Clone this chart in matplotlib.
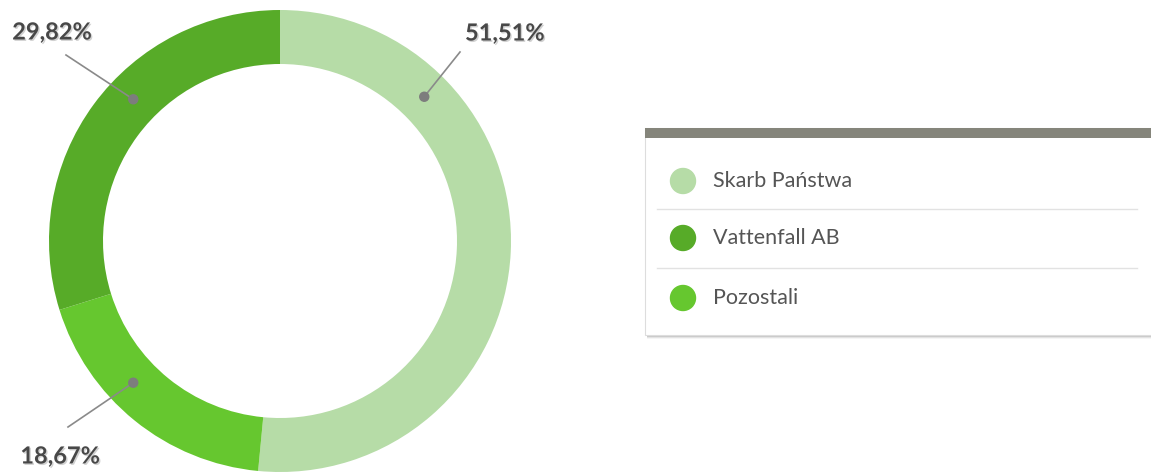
import numpy as np
import matplotlib.pyplot as plt
import matplotlib.patheffects as pe
from matplotlib.patches import Rectangle, Circle

plt.rcParams['font.family'] = ['Lato', 'DejaVu Sans']

# data (clockwise order from the top of the ring)
labels = ["Skarb Państwa", "Pozostali", "Vattenfall AB"]
shares = [51.51, 18.67, 29.82]
colors = ["#b6dca7", "#66c72f", "#57ab28"]

legend_order = ["Skarb Państwa", "Vattenfall AB", "Pozostali"]

W, H = 1151, 475
fig = plt.figure(figsize=(W / 100, H / 100), dpi=100)
ax = fig.add_axes([0, 0, 1, 1])

cx, cy = 280, H - 241
r_out, ring = 231, 54
ax.pie(shares, colors=colors, startangle=90, counterclock=False,
       center=(cx, cy), radius=r_out, frame=True,
       wedgeprops=dict(width=ring, linewidth=0))

ax.set_xlim(0, W)
ax.set_ylim(0, H)
ax.set_aspect('equal')
ax.axis('off')

# percentage callouts: (angle clockwise from top, line end, text position)
callouts = {
    "Skarb Państwa": (45, (460, H - 52), (505, H - 33)),
    "Vattenfall AB": (314, (66, H - 55), (52, H - 32)),
    "Pozostali": (226, (68, H - 427), (60, H - 456)),
}
r_mid = r_out - ring / 2
shadow = [pe.withSimplePatchShadow(offset=(1, -1), shadow_rgbFace='#999999', alpha=0.45)]
for lab, val in zip(labels, shares):
    ang, (lx, ly), (tx, ty) = callouts[lab]
    a = np.deg2rad(ang)
    px, py = cx + r_mid * np.sin(a), cy + r_mid * np.cos(a)
    ax.plot([px, lx], [py, ly], color="#8a8a8a", lw=1.2, zorder=3)
    ax.add_patch(Circle((px, py), 4.5, color="#7d7d7d", zorder=4))
    ax.text(tx, ty, f"{val:.2f}%".replace(".", ","), ha='center', va='center',
            fontsize=17, fontweight='bold', color="#484848", path_effects=shadow, zorder=5)

# legend box
bx0, by_top, by_bot = 645, H - 128, H - 335
for k, a in enumerate([0.10, 0.07, 0.04]):
    ax.add_patch(Rectangle((bx0 + 2, by_bot - 2 - k), W, by_top - by_bot, color='black',
                           alpha=a, lw=0, zorder=1))
ax.add_patch(Rectangle((bx0, by_bot), W, by_top - by_bot, facecolor='white',
                       edgecolor='#dddddd', lw=0.8, zorder=2))
ax.add_patch(Rectangle((bx0, by_top - 10), W, 10, facecolor='#85857b', lw=0, zorder=3))

row_y = [181, 238, 298]
for i, lab in enumerate(legend_order):
    y = H - row_y[i]
    col = colors[labels.index(lab)]
    ax.add_patch(Circle((683, y), 12.5, color=col, zorder=4))
    ax.text(713, y, lab, ha='left', va='center', fontsize=15.5, color="#555555", zorder=4)
for sy in [209, 268]:
    ax.plot([657, 1137], [H - sy, H - sy], color="#e2e2e2", lw=1, zorder=4)

fig.savefig("out.png", dpi=100)
